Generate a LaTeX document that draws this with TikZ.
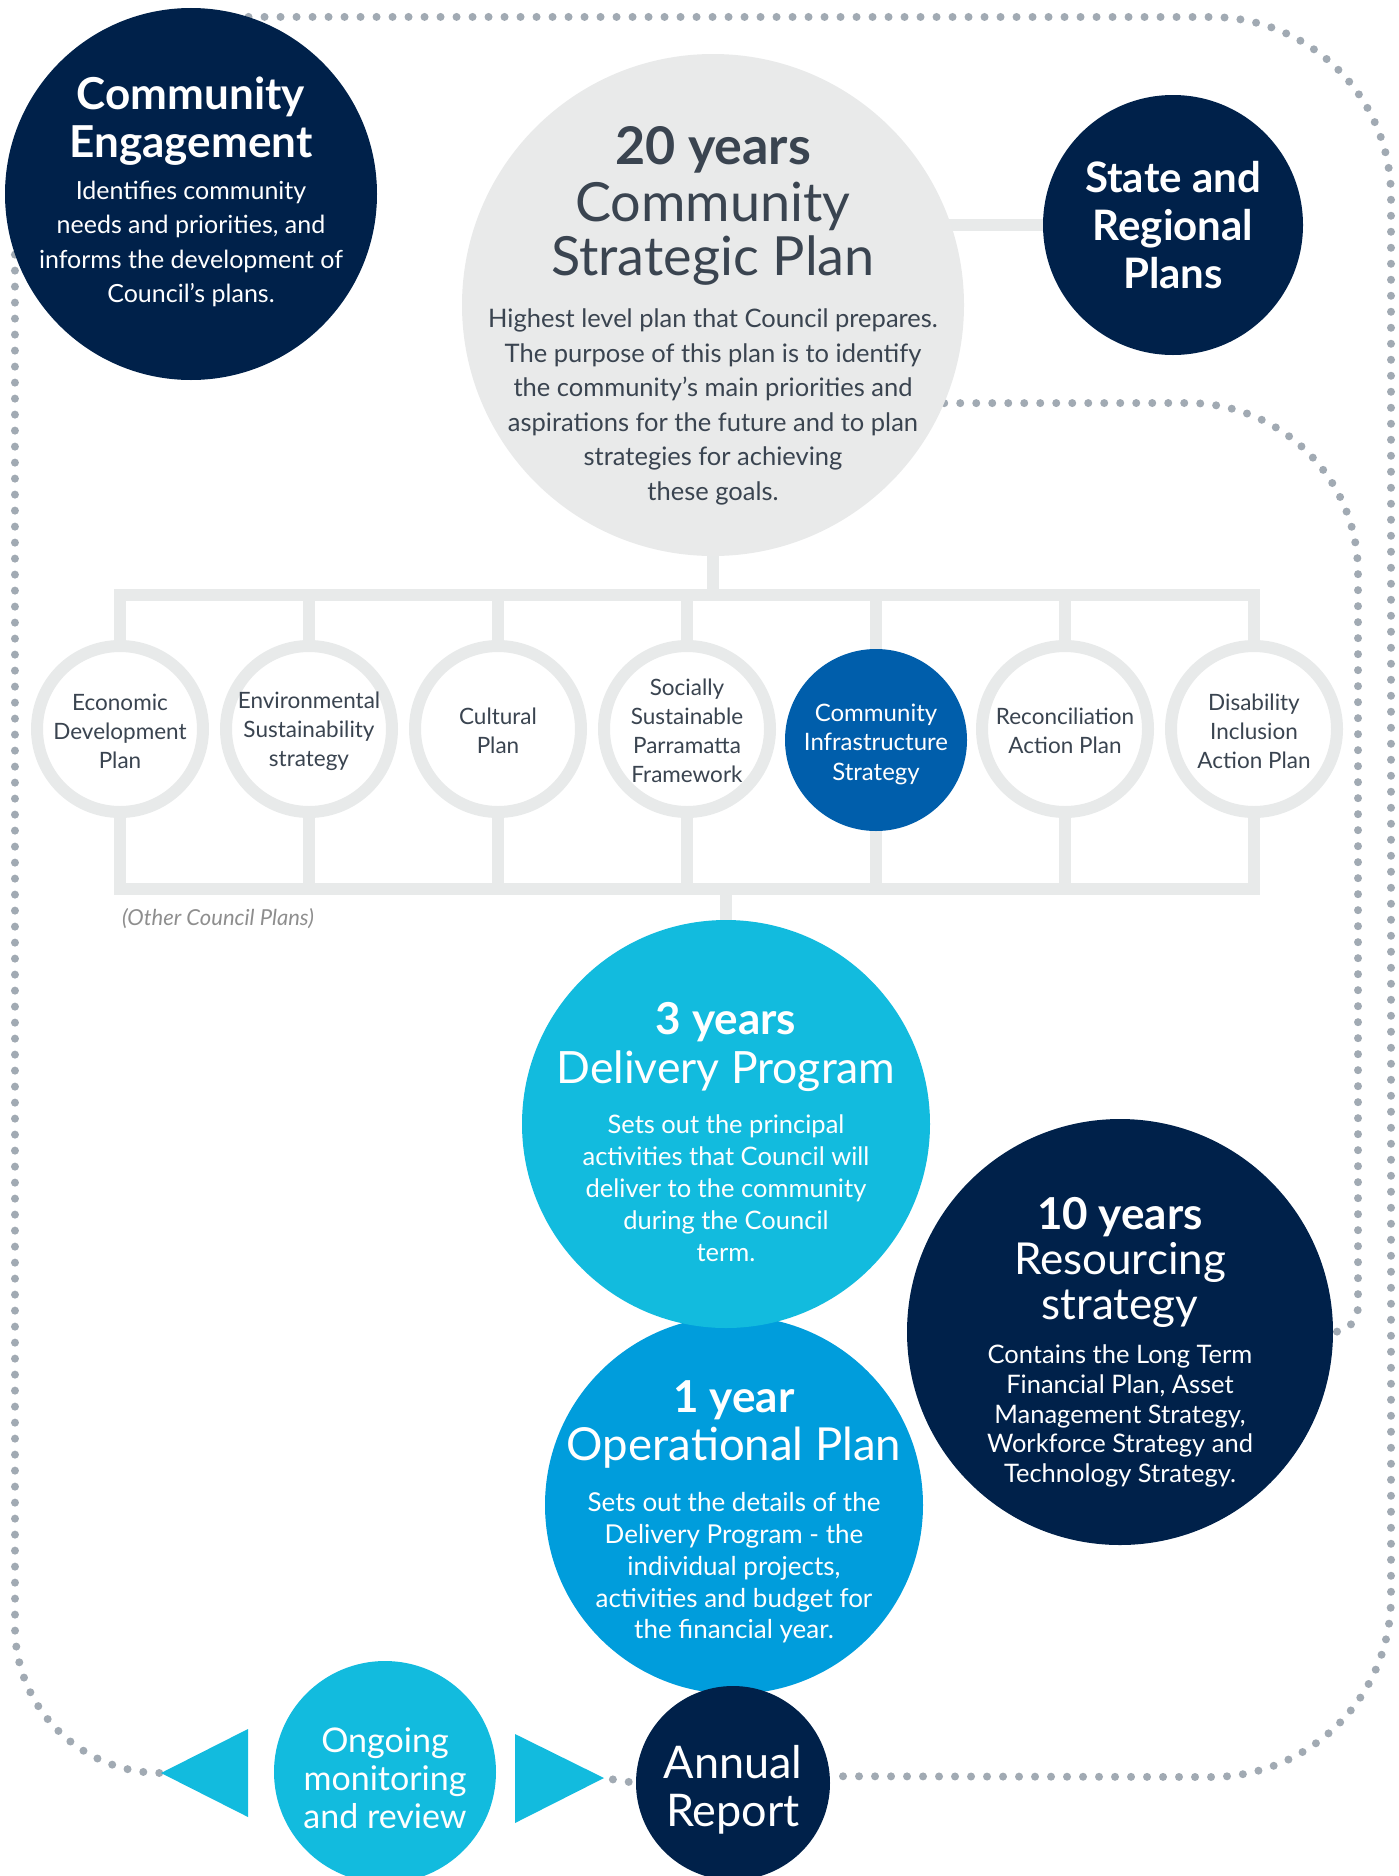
\documentclass[tikz,border=0pt]{standalone}
\usepackage{fontspec}
\setmainfont{Lato}
\usetikzlibrary{backgrounds}

\definecolor{navy}{HTML}{00214A}
\definecolor{cyanblue}{HTML}{12BBDE}
\definecolor{midblue}{HTML}{009DDC}
\definecolor{infrablue}{HTML}{005EAB}
\definecolor{cspgray}{HTML}{E9EAEA}
\definecolor{bargray}{HTML}{E8EAEA}
\definecolor{dotgray}{HTML}{A1AAB3}
\definecolor{slate}{HTML}{3A4450}
\definecolor{othergray}{HTML}{8E8E8E}

\newcommand{\fsz}[2]{\fontsize{#1}{#2}\selectfont}

\begin{document}
\begin{tikzpicture}[x=1pt,y=-1pt,
  disc/.style={circle,inner sep=0pt,minimum size=#1},
  plan/.style={circle,draw=bargray,line width=12pt,fill=white,inner sep=0pt,minimum size=166pt},
  bar/.style={draw=bargray,line width=12pt},
  dots/.style={draw=dotgray,line width=8pt,line cap=round,dash pattern=on 0pt off 16pt},
  txt/.style={align=center,inner sep=0pt,font=\fsz{25.5}{34.5}},
  plantxt/.style={align=center,inner sep=0pt,text=slate,font=\fsz{22.5}{29}}]
\useasboundingbox (0,0) rectangle (1399,1876);

% circles
\path (191,194) node[disc=372pt,fill=navy] (engage) {};
\path (713,305) node[disc=502pt,fill=cspgray] (csp) {};
\path (1173,225) node[disc=260pt,fill=navy] (state) {};
\foreach \x/\n in {120/econ,309/env,498/cult,687/social,1065/recon,1254/disab}
  \path (\x,729) node[plan] (\n) {};
\path (876,740) node[disc=182pt,fill=infrablue] (infra) {};
\path (734,1505) node[disc=378pt,fill=midblue] (op) {};
\path (726,1124) node[disc=408pt,fill=cyanblue] (dp) {};
\path (1120,1332) node[disc=426pt,fill=navy] (rs) {};
\path (733,1783) node[disc=194pt,fill=navy] (ar) {};
\path (385,1772) node[disc=222pt,fill=cyanblue] (omr) {};

% arrows either side of the review circle
\coordinate (ltip) at (161,1773);
\coordinate (rtip) at (604,1778);
\fill[cyanblue] (ltip) -- (248,1729) -- (248,1817) -- cycle;
\fill[cyanblue] (515,1734) -- (515,1823) -- (rtip) -- cycle;

% texts
\path (191,121) node[txt,text=white,font=\bfseries\fsz{44}{48}] (engage-head) {Community\\Engagement};
\path (191,244) node[txt,text=white,font=\fsz{25}{34.4}] (engage-body) {Identifies community\\needs and priorities, and\\informs the development of\\Council’s plans.};

\path (713,150) node[txt,text=slate,font=\bfseries\fsz{52}{56}] (csp-yrs) {20 years};
\path (713,234) node[txt,text=slate,font=\fsz{54}{54}] (csp-head) {Community\\Strategic Plan};
\path (713,407) node[txt,text=slate] (csp-body) {Highest level plan that Council prepares.\\The purpose of this plan is to identify\\the community’s main priorities and\\aspirations for the future and to plan\\strategies for achieving\\these goals.};

\path (1173,225) node[txt,text=white,font=\bfseries\fsz{42}{48}] (state-head) {State and\\Regional\\Plans};

\foreach \x/\n/\t in {120/econ/{Economic\\Development\\Plan},309/env/{Environmental\\Sustainability\\strategy},498/cult/{Cultural\\Plan},687/social/{Socially\\Sustainable\\Parramatta\\Framework},1065/recon/{Reconciliation\\Action Plan},1254/disab/{Disability\\Inclusion\\Action Plan}}
  \path (\x,731) node[plantxt] (\n-txt) {\t};
\path (876,744) node[plantxt,text=white,font=\fsz{24}{29.5}] (infra-txt) {Community\\Infrastructure\\Strategy};
\path (218,919) node[inner sep=0pt,text=othergray,font=\itshape\fsz{22}{26}] (other) {(Other Council Plans)};

\path (726,1022) node[txt,text=white,font=\bfseries\fsz{44}{48}] (dp-yrs) {3 years};
\path (726,1071) node[txt,text=white,font=\fsz{44.5}{48}] (dp-head) {Delivery Program};
\path (726,1188) node[txt,text=white,font=\fsz{25.5}{32}] (dp-body) {Sets out the principal\\activities that Council will\\deliver to the community\\during the Council\\term.};

\path (734,1400) node[txt,text=white,font=\bfseries\fsz{44}{48}] (op-yrs) {1 year};
\path (734,1448) node[txt,text=white,font=\fsz{45.5}{48}] (op-head) {Operational Plan};
\path (734,1568) node[txt,text=white,font=\fsz{26}{31.8}] (op-body) {Sets out the details of the\\Delivery Program - the\\individual projects,\\activities and budget for\\the financial year.};

\path (1120,1217) node[txt,text=white,font=\bfseries\fsz{44}{48}] (rs-yrs) {10 years};
\path (1120,1285) node[txt,text=white,font=\fsz{44}{45}] (rs-head) {Resourcing\\strategy};
\path (1120,1416) node[txt,text=white,font=\fsz{25.5}{29.7}] (rs-body) {Contains the Long Term\\Financial Plan, Asset\\Management Strategy,\\Workforce Strategy and\\Technology Strategy.};

\path (733,1790) node[txt,text=white,font=\fsz{45}{48}] (ar-txt) {Annual\\Report};
\path (385,1778) node[txt,text=white,font=\fsz{34}{38}] (omr-txt) {Ongoing\\monitoring\\and review};

% connectors behind the circles
\begin{pgfonlayer}{background}
\coordinate (fork) at (713,595);
\coordinate (join) at (726,889);
\draw[bar] (state) -- (state -| csp);
\draw[bar] (csp) -- (fork);
\foreach \p in {econ,env,cult,social,infra,recon,disab} {
  \draw[bar] (\p) |- (fork);
  \draw[bar] (\p) |- (join);
}
\draw[bar] (join) -- (dp);

\draw[dots] (engage.72) -- (1211,17) arc[start angle=90,end angle=0,radius=180pt]
  -- (1391,1597) arc[start angle=0,end angle=-90,radius=180pt] -- (ar.4);
\draw[dots] (engage.199) -- (15,1627) arc[start angle=180,end angle=270,radius=146pt] -- (ltip);
\draw[dots] (csp.-23) -- (1188,403) arc[start angle=90,end angle=0,radius=170pt]
  -- (1358,1307) arc[start angle=0,end angle=-90,radius=25pt] -- (rs.east);
\draw[dots,dash phase=7pt] (rtip) -- (ar.west);
\end{pgfonlayer}
\end{tikzpicture}
\end{document}
